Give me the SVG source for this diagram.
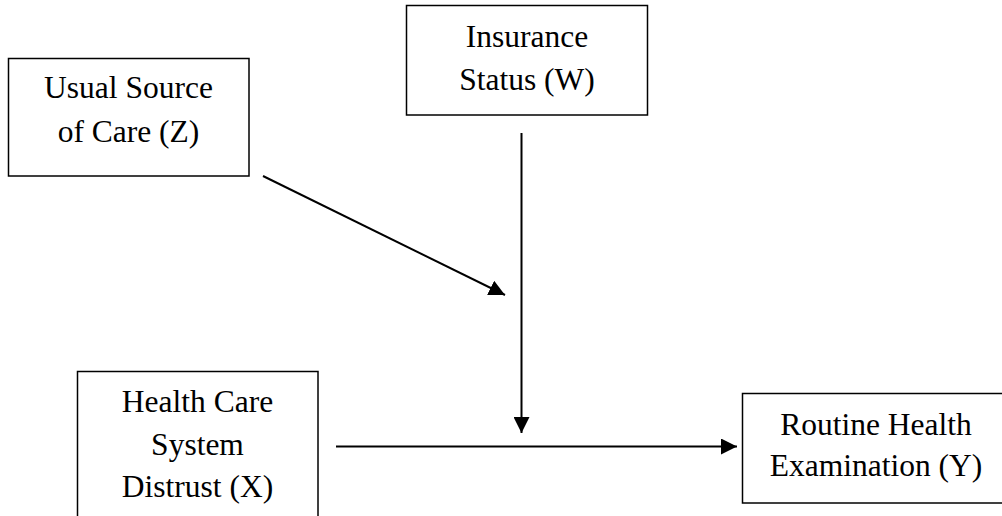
<svg xmlns="http://www.w3.org/2000/svg" width="1002" height="516" viewBox="0 0 1002 516">
<defs>
<style>
.box{fill:#fff;stroke:#000;stroke-width:1.5}
.t{font-family:"Liberation Serif","Times New Roman",serif;font-size:31.5px;fill:#000;text-anchor:middle}
.c{stroke:#000;stroke-width:2;fill:none}
</style>
<marker id="ah" markerUnits="userSpaceOnUse" markerWidth="16" markerHeight="16" viewBox="0 0 16 16" refX="16" refY="8" orient="auto">
<path d="M0,0 L16,8 L0,16 Z" fill="#000"/>
</marker>
</defs>
<rect width="1002" height="516" fill="#fff"/>
<g id="connectors">
<line class="c" x1="263" y1="176" x2="505" y2="295" marker-end="url(#ah)"/>
<line class="c" x1="521.5" y1="133" x2="521.5" y2="433" marker-end="url(#ah)"/>
<line class="c" x1="336" y1="446.5" x2="737" y2="446.5" marker-end="url(#ah)"/>
</g>
<g id="nodeZ">
<rect class="box" x="8.5" y="58.5" width="240.5" height="117.5"/>
<text class="t" x="128.5" y="98">Usual Source</text>
<text class="t" x="128.5" y="141.5">of Care (Z)</text>
</g>
<g id="nodeW">
<rect class="box" x="406.5" y="5.5" width="241" height="109.5"/>
<text class="t" x="527" y="46.5">Insurance</text>
<text class="t" x="527" y="89.5">Status (W)</text>
</g>
<g id="nodeX">
<rect class="box" x="77.5" y="371.5" width="240.5" height="160"/>
<text class="t" x="197.5" y="412">Health Care</text>
<text class="t" x="197.5" y="455">System</text>
<text class="t" x="197.5" y="497">Distrust (X)</text>
</g>
<g id="nodeY">
<rect class="box" x="742.5" y="393.5" width="280" height="109.5"/>
<text class="t" x="876" y="434.5">Routine Health</text>
<text class="t" x="876" y="476">Examination (Y)</text>
</g>
</svg>
